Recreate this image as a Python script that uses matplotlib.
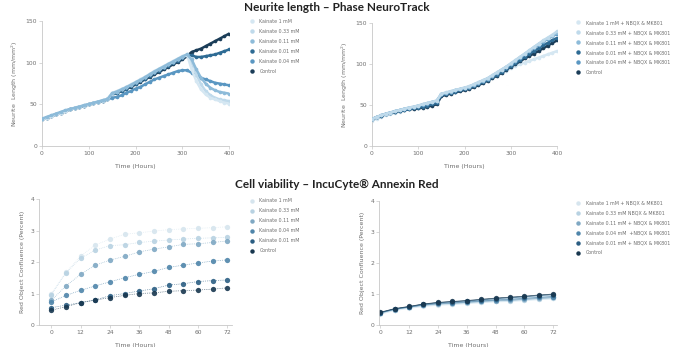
import matplotlib
matplotlib.use("Agg")
import matplotlib.pyplot as plt
import numpy as np

# ---- Neurite length (Phase NeuroTrack), sampled every 10 h ----
t_neurite = list(range(0, 401, 10))

nt_labels = ["Kainate 1 mM", "Kainate 0.33 mM", "Kainate 0.11 mM",
             "Kainate 0.01 mM", "Kainate 0.04 mM", "Control"]
nt_1mM = [32, 34, 36, 38, 40, 42, 44, 46, 47.5, 49, 50.5, 52, 53.5, 55, 56.5,
          64, 66, 68.5, 71, 74, 77, 80, 83, 86.5, 90, 93, 96, 99, 102, 105, 108,
          110, 92, 78, 68, 62, 58, 56, 54, 52, 51]
nt_033mM = [32, 34, 36, 38, 40, 42, 44, 45.5, 47, 48.5, 50, 51.5, 53, 54.5, 56,
            63, 65.5, 68, 70.5, 73.5, 76.5, 79.5, 82.5, 86, 89, 92, 95, 98, 101, 104, 107,
            109, 100, 86, 74, 66, 61, 58, 56, 55, 54]
nt_011mM = [33, 35, 37, 39, 41, 43, 44.5, 46, 47.5, 49, 50.5, 52, 53.5, 55, 56.5,
            63.5, 65.5, 68, 70.5, 73.5, 76.5, 79.5, 82.5, 86, 89.5, 92.5, 95.5, 98.5, 101.5, 104.5, 107.5,
            110, 104, 92, 82, 75, 70, 67, 65, 64, 63]
nt_001mM = [32, 34, 36, 38, 40, 42, 44, 45.5, 47, 48.5, 50, 51.5, 53, 54.5, 56,
            62, 64, 66.5, 69, 72, 75, 78, 81, 84, 87.5, 90.5, 93.5, 96.5, 99.5, 102.5, 106,
            109, 109, 107, 107, 108, 109, 110, 112, 114, 116]
nt_004mM = [32, 34, 36, 38, 40, 42, 44, 45.5, 47, 48.5, 50, 51.5, 53, 54.5, 56,
            58, 59, 61, 64, 66, 69, 71, 74, 77, 80, 82, 84, 86, 88, 90, 91,
            91, 88, 85, 82, 80, 78, 76, 75, 74, 73]
nt_control = [32, 34, 36, 38, 40, 42, 44, 45.5, 47, 48.5, 50, 51.5, 53, 54.5, 56,
              62, 64, 66, 68.5, 71, 74, 77, 80, 83, 86, 89, 92, 95, 98, 101, 104,
              108, 113, 115, 117, 120, 123, 126, 129, 132, 135]

ntb_labels = ["Kainate 1 mM + NBQX & MK801", "Kainate 0.33 mM + NBQX & MK801",
              "Kainate 0.11 mM + NBQX & MK801", "Kainate 0.01 mM + NBQX & MK801",
              "Kainate 0.04 mM + NBQX & MK801", "Control"]
ntb_1mM = [31, 33.5, 35.5, 37.5, 39, 40.5, 42, 43.5, 45, 46, 47.5, 49, 50.5, 52, 53.5,
           62, 63.5, 65, 66.5, 68, 69.5, 71, 73, 75, 77.5, 80, 83, 86, 89, 92, 95,
           98, 100, 102, 104, 106, 108, 110, 112, 114, 116]
ntb_033mM = [33, 35.5, 37.5, 39.5, 41, 42.5, 44, 45.5, 47, 48, 49.5, 51, 52.5, 54, 55.5,
             64, 65.5, 67, 68.5, 70, 71.5, 73, 75.5, 78, 80.5, 83, 86.5, 90, 93.5, 97, 101,
             105, 109, 113, 117, 121, 125, 129, 132.5, 136, 140]
ntb_011mM = [33, 35.5, 37.5, 39.5, 41, 42.5, 44, 45.5, 47, 48, 49.5, 51, 52.5, 54, 55.5,
             63.5, 65, 66.5, 68, 69.5, 71, 72.5, 75, 77.5, 80, 82.5, 86, 89.5, 93, 96.5, 100.5,
             104.5, 108.5, 112.5, 116.5, 120.5, 124.5, 128, 131.5, 135, 138]
ntb_001mM = [33, 35, 37, 39, 40.5, 42, 43, 44, 45, 46, 47, 48, 49.5, 51, 52.5,
             62, 63.5, 65, 66.5, 68, 69.5, 71, 73, 75.5, 78, 80.5, 84, 87, 90.5, 94, 97.5,
             101, 105, 109, 112.5, 116, 119.5, 123, 126, 129.5, 132]
ntb_004mM = [33, 35.5, 37.5, 39.5, 41, 42.5, 44, 45.5, 46.5, 47.5, 49, 50.5, 52, 53.5, 55,
             63.5, 65, 66.5, 68, 69.5, 71, 72.5, 75, 77.5, 80, 82.5, 86, 89.5, 93, 96.5, 100,
             104, 108, 112, 116, 120, 124, 127.5, 131, 134.5, 137]
ntb_control = [33, 35, 37, 39, 40.5, 42, 43, 44, 45, 45.5, 46, 47, 48, 49.5, 51,
               61, 62.5, 64, 65.5, 67, 68.5, 70, 72, 74.5, 77, 80, 83, 86, 89.5, 93, 97,
               100, 103.5, 107, 110, 113, 116, 119.5, 122.5, 126, 129]

# ---- Annexin Red confluence, every 6 h ----
t_annexin = [0, 6, 12, 18, 24, 30, 36, 42, 48, 54, 60, 66, 72]

ax_labels = ["Kainate 1 mM", "Kainate 0.33 mM", "Kainate 0.11 mM",
             "Kainate 0.04 mM", "Kainate 0.01 mM", "Control"]
ax_1mM = [1.0, 1.67, 2.19, 2.54, 2.73, 2.88, 2.93, 2.98, 3.03, 3.05, 3.07, 3.09, 3.12]
ax_033mM = [0.95, 1.65, 2.12, 2.38, 2.52, 2.55, 2.62, 2.66, 2.7, 2.73, 2.75, 2.77, 2.78]
ax_011mM = [0.78, 1.24, 1.61, 1.9, 2.06, 2.18, 2.32, 2.41, 2.48, 2.56, 2.58, 2.62, 2.67]
ax_004mM = [0.73, 0.94, 1.1, 1.24, 1.37, 1.5, 1.61, 1.7, 1.83, 1.9, 1.97, 2.03, 2.07]
ax_001mM = [0.55, 0.63, 0.71, 0.8, 0.93, 1.0, 1.08, 1.15, 1.27, 1.31, 1.38, 1.41, 1.43]
ax_control = [0.47, 0.58, 0.71, 0.79, 0.87, 0.94, 1.0, 1.02, 1.07, 1.09, 1.11, 1.14, 1.18]

axb_labels = ["Kainate 1 mM + NBQX & MK801", "Kainate 0.33 mM NBQX & MK801",
              "Kainate 0.11 mM + NBQX & MK801", "Kainate 0.04 mM  +NBQX & MK801",
              "Kainate 0.01 mM + NBQX & MK801", "Control"]
axb_1mM = [0.37, 0.49, 0.56, 0.62, 0.66, 0.68, 0.71, 0.74, 0.77, 0.78, 0.81, 0.84, 0.86]
axb_033mM = [0.38, 0.5, 0.57, 0.63, 0.67, 0.69, 0.72, 0.75, 0.78, 0.79, 0.82, 0.85, 0.87]
axb_011mM = [0.38, 0.5, 0.57, 0.64, 0.68, 0.7, 0.73, 0.76, 0.79, 0.8, 0.83, 0.86, 0.89]
axb_004mM = [0.39, 0.51, 0.58, 0.65, 0.7, 0.72, 0.75, 0.78, 0.81, 0.83, 0.86, 0.89, 0.92]
axb_001mM = [0.4, 0.52, 0.59, 0.67, 0.72, 0.75, 0.78, 0.81, 0.85, 0.88, 0.91, 0.95, 0.98]
axb_control = [0.41, 0.53, 0.6, 0.68, 0.73, 0.76, 0.79, 0.83, 0.87, 0.9, 0.93, 0.97, 1.0]

# colours (light -> dark)
c_nt = ["#d5e7f2", "#bfdaeb", "#8dbbd9", "#2e6b94", "#5a97c2", "#1b3d58"]
c_ax = ["#d6e5ee", "#b8d2e2", "#7fa8c3", "#4f85aa", "#2b5e83", "#18374f"]

grey = "#6f6f6f"
tick_fs = 4.3
lab_fs = 4.5
leg_fs = 3.4
title_font = ["Lato", "DejaVu Sans"]

fig = plt.figure(figsize=(6.73, 3.47), dpi=100)
fig.patch.set_facecolor("white")


def style_axes(ax, ylabel):
    for s in ["top", "right"]:
        ax.spines[s].set_visible(False)
    for s in ["left", "bottom"]:
        ax.spines[s].set_color("#c8c8c8")
        ax.spines[s].set_linewidth(0.6)
    ax.tick_params(colors="#c8c8c8", labelcolor=grey, labelsize=tick_fs,
                   length=2, width=0.5, pad=1.5)
    ax.set_xlabel("Time (Hours)", fontsize=lab_fs, color=grey, labelpad=6)
    ax.set_ylabel(ylabel, fontsize=lab_fs, color=grey, labelpad=4)


def add_legend(ax, x, y):
    leg = ax.legend(loc="upper left", bbox_to_anchor=(x, y), bbox_transform=fig.transFigure,
                    frameon=False, fontsize=leg_fs, labelspacing=1.05, handlelength=0.6,
                    handletextpad=1.3, borderaxespad=0, borderpad=0)
    for txt in leg.get_texts():
        txt.set_color(grey)
    # dots only in the key
    for hnd in leg.legend_handles:
        hnd.set_linestyle("None")
        hnd.set_markersize(3.2)
        hnd.set_alpha(1)
    return leg


# top left: neurite length, kainate alone
ax1 = fig.add_axes([0.0624, 0.579, 0.278, 0.360])
nt_series = [nt_1mM, nt_033mM, nt_011mM, nt_001mM, nt_004mM, nt_control]
zo = [5, 4, 6, 2, 3, 1]
for vals, col, lab, z in zip(nt_series, c_nt, nt_labels, zo):
    ax1.plot(t_neurite, vals, color=col, lw=1.8, marker="o", ms=2.6, mew=0,
             label=lab, zorder=z)
ax1.set_xlim(0, 400)
ax1.set_ylim(0, 150)
ax1.set_xticks([0, 100, 200, 300, 400])
ax1.set_yticks([0, 50, 100, 150])
style_axes(ax1, "Neurite  Length (mm/mm$^2$)")
add_legend(ax1, 0.372, 0.945)

# top right: neurite length with NBQX & MK801
ax2 = fig.add_axes([0.5527, 0.579, 0.275, 0.354])
ntb_series = [ntb_1mM, ntb_033mM, ntb_011mM, ntb_001mM, ntb_004mM, ntb_control]
zo = [1, 6, 5, 3, 4, 2]
for vals, col, lab, z in zip(ntb_series, c_nt, ntb_labels, zo):
    ax2.plot(t_neurite, vals, color=col, lw=1.8, marker="o", ms=2.6, mew=0,
             label=lab, zorder=z)
ax2.set_xlim(0, 400)
ax2.set_ylim(0, 150)
ax2.set_xticks([0, 100, 200, 300, 400])
ax2.set_yticks([0, 50, 100, 150])
style_axes(ax2, "Neurite  Length (mm/mm$^2$)")
add_legend(ax2, 0.857, 0.942)

# bottom left: red object confluence, kainate alone
ax3 = fig.add_axes([0.058, 0.0634, 0.287, 0.363])
ax_series = [ax_1mM, ax_033mM, ax_011mM, ax_004mM, ax_001mM, ax_control]
for vals, col, lab in zip(ax_series, c_ax, ax_labels):
    ax3.plot(t_annexin, vals, color=col, lw=0.5, ls=":", alpha=0.9,
             marker="o", ms=3.8, mew=0, mfc=col, label=lab)
ax3.set_xlim(-5, 74)
ax3.set_ylim(0, 4)
ax3.set_xticks(t_annexin[::2])
ax3.set_yticks([0, 1, 2, 3, 4])
style_axes(ax3, "Red Object Confluence (Percent)")
add_legend(ax3, 0.372, 0.428)

# bottom right: red object confluence with NBQX & MK801
ax4 = fig.add_axes([0.563, 0.0634, 0.2645, 0.357])
axb_series = [axb_1mM, axb_033mM, axb_011mM, axb_004mM, axb_001mM, axb_control]
ax4.fill_between(t_annexin, np.array(axb_1mM) - 0.02, np.array(axb_control) + 0.02,
                 color="#dcebf4", lw=0, zorder=0)
for vals, col, lab in zip(axb_series, c_ax, axb_labels):
    ax4.plot(t_annexin, vals, color=col, lw=0.5, alpha=0.9,
             marker="o", ms=3.8, mew=0, mfc=col, label=lab)
ax4.set_xlim(-0.5, 73.5)
ax4.set_ylim(0, 4)
ax4.set_xticks(t_annexin[::2])
ax4.set_yticks([0, 1, 2, 3, 4])
style_axes(ax4, "Red Object Confluence (Percent)")
add_legend(ax4, 0.857, 0.422)

# section titles
fig.text(0.5, 0.977, "Neurite length \u2013 Phase NeuroTrack", ha="center", va="center",
         fontsize=8.5, fontweight="bold", family=title_font, color="#222222")
fig.text(0.5, 0.467, "Cell viability \u2013 IncuCyte\u00ae Annexin Red", ha="center", va="center",
         fontsize=8.5, fontweight="bold", family=title_font, color="#222222")

fig.savefig("out.png", dpi=100, facecolor="white")
